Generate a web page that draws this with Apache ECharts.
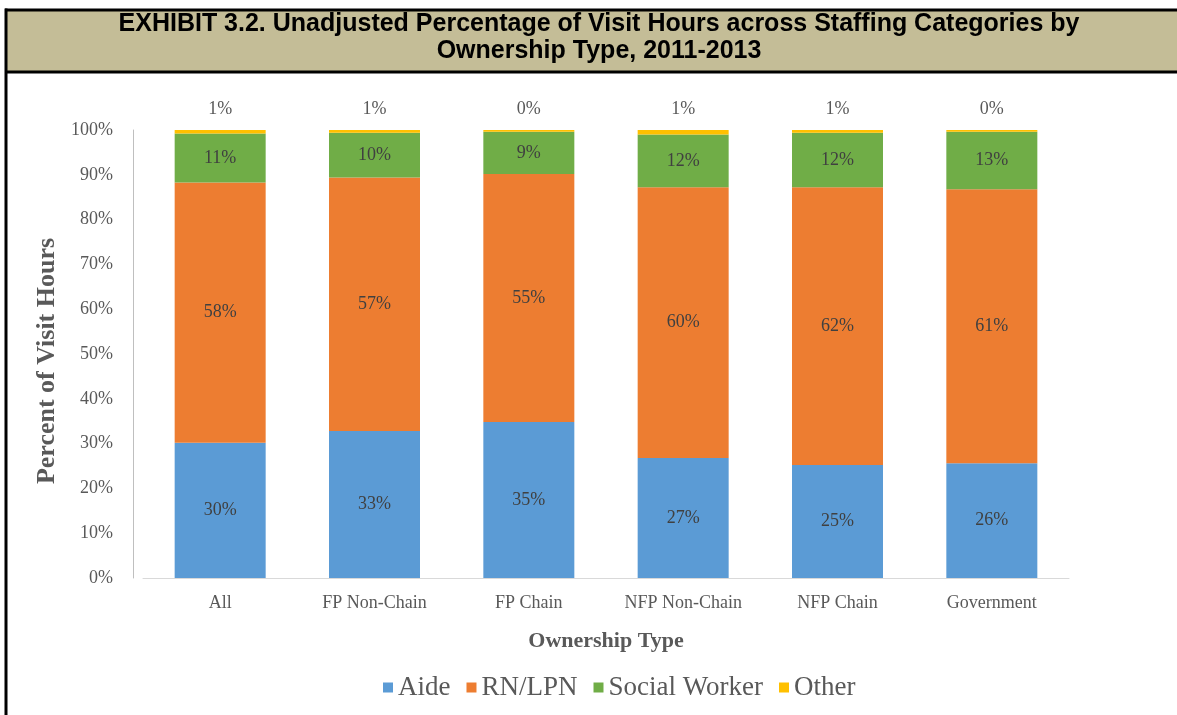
<!DOCTYPE html>
<html>
<head>
<meta charset="utf-8">
<title>Exhibit 3.2</title>
<script src="https://cdn.jsdelivr.net/npm/echarts@6/dist/echarts.min.js"></script>
<style>
  html, body { margin: 0; padding: 0; background: #ffffff; }
  #chart { width: 1177px; height: 715px; }
</style>
</head>
<body>
<div id="chart"></div>
<script>
// Ownership types along the category axis
const categories = ['All', 'FP Non-Chain', 'FP Chain', 'NFP Non-Chain', 'NFP Chain', 'Government'];

// Share of visit hours (%) by staffing category
const aide         = [30.2, 32.8, 34.8, 26.8, 25.2, 25.6];
const rnLpn        = [58.1, 56.6, 55.4, 60.4, 62.0, 61.2];
const socialWorker = [10.9, 10.0,  9.4, 11.8, 12.2, 12.8];
const other        = [ 0.8,  0.6,  0.4,  1.0,  0.6,  0.4];

// Value axis ticks
const yMin = 0, yMax = 100, yStep = 10;

const serif = '"Liberation Serif", "Times New Roman", serif';
const pct = p => Math.round(p.value) + '%';

const chart = echarts.init(document.getElementById('chart'), null, { renderer: 'canvas' });

function stackSeries(name, data, color, labelPos) {
  return {
    name: name,
    type: 'bar',
    stack: 'total',
    data: data,
    barWidth: 91,
    itemStyle: { color: color },
    label: labelPos === 'top'
      ? { show: true, position: 'top', distance: 12, formatter: pct,
          fontFamily: serif, fontSize: 18, color: '#595959' }
      : { show: true, position: 'inside', formatter: pct,
          fontFamily: serif, fontSize: 18, color: '#404040' },
    emphasis: { disabled: true }
  };
}

const titleFont = 'bold 25px "Liberation Sans", Arial, sans-serif';

chart.setOption({
  backgroundColor: '#ffffff',
  animation: false,
  graphic: [
    { type: 'rect', shape: { x: 7, y: 11, width: 1170, height: 60 },
      style: { fill: '#C4BD97' }, silent: true },
    { type: 'line', shape: { x1: 5, y1: 10, x2: 1177, y2: 10 },
      style: { stroke: '#000', lineWidth: 3 }, silent: true },
    { type: 'line', shape: { x1: 5, y1: 72, x2: 1177, y2: 72 },
      style: { stroke: '#000', lineWidth: 3 }, silent: true },
    { type: 'line', shape: { x1: 6, y1: 8.5, x2: 6, y2: 715 },
      style: { stroke: '#000', lineWidth: 3 }, silent: true },
    { type: 'text', x: 599, y: 24, silent: true,
      style: { text: 'EXHIBIT 3.2. Unadjusted Percentage of Visit Hours across Staffing Categories by',
               fill: '#000', font: titleFont,
               textAlign: 'center', textVerticalAlign: 'middle' } },
    { type: 'text', x: 599, y: 51, silent: true,
      style: { text: 'Ownership Type, 2011-2013',
               fill: '#000', font: titleFont,
               textAlign: 'center', textVerticalAlign: 'middle' } }
  ],
  legend: {
    data: ['Aide', 'RN/LPN', 'Social Worker', 'Other'],
    left: 378,
    top: 669,
    icon: 'rect',
    itemWidth: 10,
    itemHeight: 10,
    itemGap: 16,
    textStyle: { fontFamily: serif, fontSize: 27, color: '#595959' },
    selectedMode: false
  },
  grid: { left: 143, top: 130, width: 926, height: 448, containLabel: false },
  xAxis: {
    type: 'category',
    data: categories,
    name: 'Ownership Type',
    nameLocation: 'middle',
    nameGap: 52,
    nameTextStyle: { fontFamily: serif, fontSize: 22, fontWeight: 'bold', color: '#595959' },
    axisLine: { show: true, lineStyle: { color: '#D9D9D9', width: 1 } },
    axisTick: { show: false },
    axisLabel: { fontFamily: serif, fontSize: 18, color: '#595959', margin: 16 }
  },
  yAxis: {
    type: 'value',
    min: yMin,
    max: yMax,
    interval: yStep,
    offset: 10,
    name: 'Percent of Visit Hours',
    nameLocation: 'middle',
    nameGap: 61,
    nameTextStyle: { fontFamily: serif, fontSize: 26, fontWeight: 'bold', color: '#595959',
                     padding: [0, 14, 0, 0] },
    axisLine: { show: true, lineStyle: { color: '#BFBFBF', width: 1 } },
    axisTick: { show: false },
    splitLine: { show: false },
    axisLabel: { formatter: '{value}%', fontFamily: serif, fontSize: 18, color: '#595959', margin: 20 }
  },
  series: [
    stackSeries('Aide', aide, '#5B9BD5', 'inside'),
    stackSeries('RN/LPN', rnLpn, '#ED7D31', 'inside'),
    stackSeries('Social Worker', socialWorker, '#70AD47', 'inside'),
    stackSeries('Other', other, '#FFC000', 'top')
  ]
});
</script>
</body>
</html>
